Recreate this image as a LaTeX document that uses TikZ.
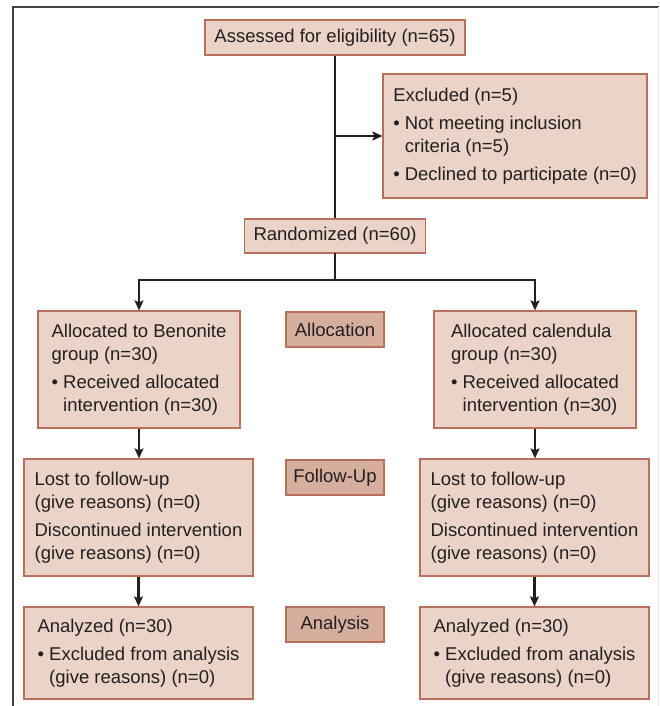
\documentclass[tikz,border=0pt]{standalone}
\usepackage{fontspec}
\setmainfont{Liberation Sans}
\usetikzlibrary{arrows.meta}
\definecolor{boxfill}{HTML}{EBD3C8}
\definecolor{boxline}{HTML}{B8705C}
\definecolor{tagfill}{HTML}{D6AE9E}
\definecolor{ink}{HTML}{231F20}
\begin{document}
\begin{tikzpicture}[
    x=1pt, y=-1pt,
    every node/.style={font=\fontsize{18.5}{22.5}\selectfont, text=ink},
    stage/.style={draw=boxline,line width=1.2pt,fill=boxfill,align=left,inner sep=0pt},
    tag/.style={draw=boxline,line width=1.2pt,fill=tagfill,minimum width=98pt,minimum height=35pt,inner sep=0pt},
    trunk/.style={draw=ink,line width=2.2pt,line cap=rect},
    flow/.style={draw=ink,line width=2.2pt,-{Stealth[length=10pt,width=9pt,inset=2pt]}},
  ]
  \useasboundingbox (0,0) rectangle (659,706);
  % frame
  \draw[ink!85,line width=1.5pt] (13,706) -- (13,7) -- (659,7);
  \draw[black!8,line width=1pt] (658,7) -- (658,706);

  % Enrollment
  \node[stage,minimum width=260pt,minimum height=35pt] (assess) at (335,37.5) {Assessed for eligibility (n=65)};
  \node[stage,minimum width=264pt,minimum height=124pt] (excl) at (515,136)
    {Excluded (n=5)\\[6pt]
     \textbullet\ Not meeting inclusion\\
     \phantom{\textbullet\ }criteria (n=5)\\[6pt]
     \textbullet\ Declined to participate (n=0)};
  \node[stage,minimum width=181pt,minimum height=34pt] (rand) at (335,236) {Randomized (n=60)};
  \coordinate (split) at (335,136);
  \coordinate (fork) at (335,280);
  \draw[draw=ink,line width=2.2pt] (assess.south) -- (rand.north);
  \draw[flow] (split) -- (excl.west);

  % Allocation
  \node[tag] (tagalloc) at (335,329.5) {Allocation};
  \node[stage,minimum width=202pt,minimum height=117pt] (allocL) at (139,369.5)
    {Allocated to Benonite\\
     group (n=30)\\[6pt]
     \textbullet\ Received allocated\\
     \phantom{\textbullet\ }intervention (n=30)};
  \node[stage,minimum width=202pt,minimum height=117pt] (allocR) at (535,369.5)
    {Allocated calendula\\
     group (n=30)\\[6pt]
     \textbullet\ Received allocated\\
     \phantom{\textbullet\ }intervention (n=30)};
  \draw[trunk] (rand.south) -- (fork);
  \draw[flow] (fork) -| (allocL.north);
  \draw[flow] (fork) -| (allocR.north);

  % Follow-Up
  \node[tag] (tagfup) at (335,477.5) {Follow-Up};
  \node[stage,minimum width=229pt,minimum height=117pt] (fupL) at (138.5,517.5)
    {Lost to follow-up\\
     (give reasons) (n=0)\\[6pt]
     Discontinued intervention\\
     (give reasons) (n=0)};
  \node[stage,minimum width=229pt,minimum height=117pt] (fupR) at (534.5,517.5)
    {Lost to follow-up\\
     (give reasons) (n=0)\\[6pt]
     Discontinued intervention\\
     (give reasons) (n=0)};
  \draw[flow] (allocL.south) -- (allocL.south |- fupL.north);
  \draw[flow] (allocR.south) -- (allocR.south |- fupR.north);

  % Analysis
  \node[tag] (tagana) at (335,624.5) {Analysis};
  \node[stage,minimum width=229pt,minimum height=92pt] (anaL) at (138.5,653)
    {Analyzed (n=30)\\[6pt]
     \textbullet\ Excluded from analysis\\
     \phantom{\textbullet\ }(give reasons) (n=0)};
  \node[stage,minimum width=229pt,minimum height=92pt] (anaR) at (534.5,653)
    {Analyzed (n=30)\\[6pt]
     \textbullet\ Excluded from analysis\\
     \phantom{\textbullet\ }(give reasons) (n=0)};
  \draw[flow] (fupL.south) -- (anaL.north);
  \draw[flow] (fupR.south) -- (anaR.north);
\end{tikzpicture}
\end{document}
